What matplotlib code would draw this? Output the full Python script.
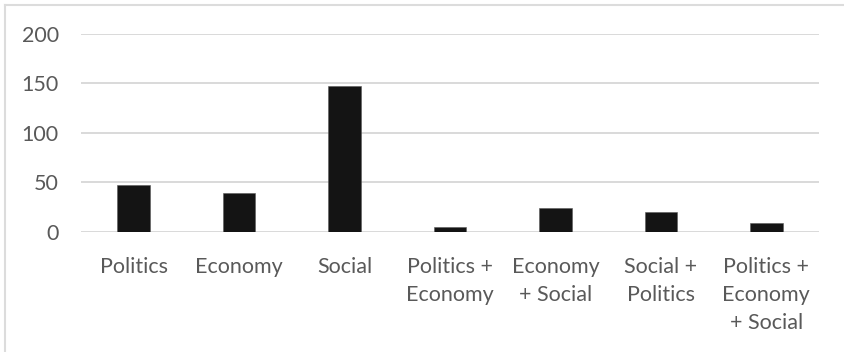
import matplotlib
matplotlib.use("Agg")
import matplotlib.pyplot as plt
from matplotlib.lines import Line2D
import numpy as np

# Data
categories = ["Politics", "Economy", "Social", "Politics +\nEconomy",
              "Economy\n+ Social", "Social +\nPolitics", "Politics +\nEconomy\n+ Social"]
counts = [47, 39, 147, 5, 24, 20, 9]
yticks = [0, 50, 100, 150, 200]

plt.rcParams['font.family'] = ['Lato', 'DejaVu Sans']
text_col = '#595959'
grid_col = '#d9d9d9'

fig = plt.figure(figsize=(8.44, 3.52), dpi=100)
ax = fig.add_axes([81 / 844, 120.3 / 352, 738 / 844, 197.7 / 352])

x = np.arange(len(categories))
ax.bar(x, counts, width=0.31, color='#141414', edgecolor='#5a5a5a', linewidth=0.4, zorder=3)

ax.set_xlim(-0.5, len(categories) - 0.5)
ax.set_ylim(0, 200)
ax.set_yticks(yticks)
ax.set_yticklabels([str(v) for v in yticks])
ax.set_xticks(x)
ax.set_xticklabels(categories, linespacing=1.5, va='top')

ax.grid(axis='y', color=grid_col, linewidth=1.4, zorder=0)
for s in ax.spines.values():
    s.set_visible(False)
ax.tick_params(axis='both', length=0, labelsize=15.5, labelcolor=text_col)
ax.tick_params(axis='y', pad=16)
ax.tick_params(axis='x', pad=18)

# chart frame (only left and top edges visible in the crop)
fig.add_artist(Line2D([5 / 844, 5 / 844], [0, 1 - 4.5 / 352], color='#dcdcdc', linewidth=1.5))
fig.add_artist(Line2D([5 / 844, 1], [1 - 4.5 / 352, 1 - 4.5 / 352], color='#dcdcdc', linewidth=1.5))

fig.savefig("out.png", dpi=100)
